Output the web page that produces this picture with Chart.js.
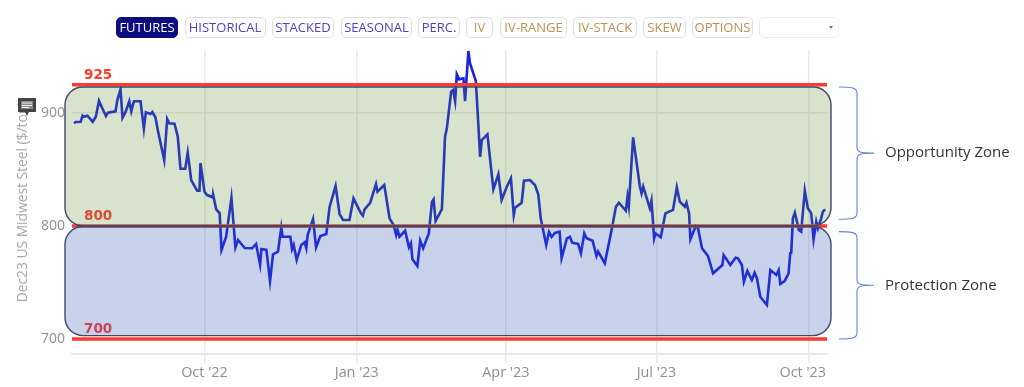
<!DOCTYPE html>
<html>
<head>
<meta charset="utf-8">
<script src="https://cdn.jsdelivr.net/npm/chart.js@4/dist/chart.umd.min.js"></script>
<style>
html,body{margin:0;padding:0;background:#fff;overflow:hidden}
#wrap{position:relative;width:1024px;height:387px;overflow:hidden}
#c{position:absolute;left:0;top:0;width:1024px;height:387px;filter:blur(.45px)}
.btn{position:absolute;top:17px;height:21px;box-sizing:border-box;border:1.5px solid #dedede;border-radius:5px;background:#fff;
 font:13px/18px "Open Sans",sans-serif;text-align:center;white-space:nowrap;filter:blur(.35px)}
.a{color:#4f42c4}.b{color:#bd9150}
.on{background:#0d0d80;border-color:#0d0d80;color:#fff}
.sel{border-color:#ececec;border-width:1px}
.sel i{position:absolute;right:5px;top:8px;width:0;height:0;border-left:2px solid transparent;border-right:2px solid transparent;border-top:3px solid #777}
#icon{position:absolute;left:17px;top:97px}
</style>
</head>
<body>
<div id="wrap"><canvas id="c" width="1024" height="387"></canvas><div id="bar"></div>
<svg id="icon" width="20" height="20" viewBox="0 0 20 20"><path d="M1 1h18v14h-7l-2 4-2-4H1z" fill="#444"/><path d="M4 4h12v8H4z" fill="#8a8a8a"/><path d="M5 6h10M5 8.5h10M5 10.5h7" stroke="#eee" stroke-width="1"/></svg>
</div>
<script>
// Days counted from 1 Oct 2022
const days = [-78.8,-77.8,-74.8,-73.6,-72.8,-70.7,-67.5,-65.6,-63.7,-61.7,-59.5,-58.3,-53.7,-52.6,-50.7,-49.5,-47.6,-45.4,-44.2,-42.6,-38.6,-36.6,-35.4,-32.6,-31.5,-29.6,-28.2,-24.3,-22.5,-21.3,-18.1,-16.1,-14.5,-11.6,-10.1,-8,-4.4,-3,-2.4,0,1.6,5,5.2,7.1,9.2,10.3,13.1,16.3,18.7,20.3,24.3,28.8,31.2,33.6,34.4,37.4,39.6,41.4,44.4,46.4,47.2,51.9,52.9,53.9,55.7,58.5,60.5,61.5,62.3,65.6,67.4,70,73.6,75.6,79.2,81.6,83.7,87.6,90,94.5,95.7,96.7,100.1,103.6,104.5,108.6,111.8,114.2,115.8,116.6,117.8,121.2,123.5,124.7,125.6,128.6,130.3,132.1,135.5,137.4,138.4,139.6,143.4,145.3,146.4,149,150.2,151.4,152.4,153.8,156.4,157.4,159.4,160.4,163.9,165.1,166.5,167.5,170.9,174.5,177.5,179.5,182.6,185.1,186.8,187.6,191.6,193,196.6,199.6,201.6,203.1,206.4,208.1,209.7,211.7,214.5,215.7,218.9,220.7,222.1,225.7,227.4,229.4,230.8,234.4,236.8,237.8,241.8,245.9,248.5,250.3,254.5,255.5,256.3,258.9,263,264,265,269,270,271.6,272.4,275.6,278.4,283,285.3,287.1,290.1,291.1,292.7,293.5,296.7,298.1,300.5,304.1,307.2,312.8,313.6,317.6,320.8,322.2,324.6,325.8,327.9,330.6,332.3,333.7,335.7,339.7,341.8,345.4,346.8,347.8,350.4,352.8,353.8,354.4,355.4,356.6,359,360.4,362.6,364.4,366.5,367.9,369.5,370.5,372.5,373.5,374.9];
const prices = [891,892,892.3,897.6,896.7,897.6,892.3,896.7,910.9,904.2,897.4,900.3,901.5,911.5,921,895.8,901.2,910.4,901.5,910.4,910.4,886.1,900.6,899.1,900.9,896.2,885,858.4,894.7,890.9,890.5,879,850.7,850.7,864.9,840.7,831.2,831.2,855.8,830.4,827.4,825.4,828,814.8,811.2,778.8,790.5,825,781.1,787.6,780.5,780.3,784.1,765.8,779.6,778.8,751.3,775,777.3,798.8,790.5,790.5,779.4,783.2,769.9,783.2,785.6,780.3,792,806.2,781.1,791.2,792.9,817.1,835.4,810.6,805.3,805.3,824.5,811.2,809.1,814.8,820.6,837.2,830.4,836.3,806.8,800.9,792,796.5,790.5,795.8,781.1,784.7,770.5,764.6,787,780.3,793.5,821.2,823.5,804.4,815,879,886.5,918.9,920.4,910.6,934.3,929.8,930.7,910.6,954.9,944,928.3,898.2,861.3,876.1,881.2,832.5,845.8,823,834.8,842.2,809.7,816.2,820.6,840.1,840.7,836.3,828.1,806.8,783.2,794.7,790.3,793.8,795,771.4,789.1,790.5,785.2,784.1,775.8,793.5,789.1,787,773.5,777.3,767,796.5,817.1,820.6,813.5,825.9,817.7,878.5,834.8,828.9,834.8,815.7,822.4,789.1,793.5,790,811.2,814.2,834.2,821.5,817.1,820.6,811.2,788.2,800,798,780.3,773.5,758.1,765.5,774.3,765.5,772,771.4,765.5,750.7,760.2,752.2,758.7,753.7,737.4,730.1,761,756.6,761,748.7,751.3,758.1,775.8,776.4,806.8,811.8,796.5,795,831.2,815.7,811.2,788.2,803.8,798,806.8,812.7,814.8];
const xTickDays = [0,92,182,273,365];
const xTickLabels = ["Oct '22","Jan '23","Apr '23","Jul '23","Oct '23"];
const yTicks = [700,800,900];
const levels = [925,800,700];
const levelColors = ["#ff3a2e","#ff3a2e","#ff3a2e"];
const zoneNames = ["Opportunity Zone","Protection Zone"];
const zoneTops = [923,799.5];
const zoneBottoms = [800.2,703];
const axisName = "Dec23 US Midwest Steel ($/ton)";
const viewButtons = ["FUTURES","HISTORICAL","STACKED","SEASONAL","PERC."];
const volButtons = ["IV","IV-RANGE","IV-STACK","SKEW","OPTIONS"];

// Toolbar
const spans = [[116,62],[184.5,81],[272,62],[341,71],[418,42],[466,27],[500,67],[573,64],[643,43],[692,61]];
const bar = document.getElementById('bar');
viewButtons.concat(volButtons).forEach((t,i)=>{
  const d = document.createElement('div');
  d.className = 'btn ' + (i===0 ? 'on' : i<viewButtons.length ? 'a' : 'b');
  d.textContent = t;
  d.style.left = spans[i][0]+'px'; d.style.width = spans[i][1]+'px';
  bar.appendChild(d);
});
const sel = document.createElement('div');
sel.className='btn sel'; sel.style.left='759px'; sel.style.width='80px'; sel.innerHTML='<i></i>';
bar.appendChild(sel);

function roundRect(ctx,x,y,w,h,r){ctx.beginPath();ctx.roundRect(x,y,w,h,r);}
function brace(ctx,x0,xm,xt,yt,ym,yb){
  ctx.beginPath();
  ctx.moveTo(x0,yt);
  ctx.bezierCurveTo(xm-8,yt,xm,yt,xm,yt+6);
  ctx.lineTo(xm,ym-6);
  ctx.bezierCurveTo(xm,ym-1,xm+3,ym,xt,ym);
  ctx.bezierCurveTo(xm+3,ym,xm,ym+1,xm,ym+6);
  ctx.lineTo(xm,yb-6);
  ctx.bezierCurveTo(xm,yb,xm-8,yb,x0,yb);
  ctx.stroke();
}

const overlay = {
  id:'overlay',
  beforeDraw(chart){
    // Oct '23 label is kept inside the plot, as in the source chart
    const x = chart.scales.x;
    const items = x.getLabelItems(chart.chartArea);
    const last = items[items.length-1];
    if(last && !last.options.shifted){ last.options.translation[0]-=6; last.options.shifted=true; }
  },
  afterDatasetsDraw(chart){
    const {ctx,scales:{y},chartArea:a} = chart;
    ctx.save();
    // level numbers
    ctx.font='bold 13.5px "DejaVu Sans"';
    ctx.textAlign='left'; ctx.textBaseline='bottom';
    levels.forEach(v=>{ ctx.fillStyle='#ff3a2e'; ctx.fillText(String(v),84,y.getPixelForValue(v)-3); });
    // translucent zones
    const fills=['rgba(90,140,50,.24)','rgba(50,90,180,.27)'];
    zoneTops.forEach((t,i)=>{
      const top=y.getPixelForValue(t), bot=y.getPixelForValue(zoneBottoms[i]);
      roundRect(ctx,a.left-7,top,a.width+11,bot-top,18);
      ctx.fillStyle=fills[i]; ctx.fill();
      ctx.strokeStyle='#3c4a68'; ctx.lineWidth=1.4; ctx.stroke();
    });
    // braces and captions
    ctx.strokeStyle='#6486d2'; ctx.lineWidth=1.1;
    const bt=[923,795], bb=[806,700];
    ctx.font='15px "Open Sans"'; ctx.textBaseline='middle'; ctx.fillStyle='#333';
    zoneNames.forEach((n,i)=>{
      const yt=y.getPixelForValue(bt[i]), yb=y.getPixelForValue(bb[i]), ym=(yt+yb)/2;
      brace(ctx,a.right+12,a.right+30,a.right+47,yt,ym,yb);
      ctx.fillText(n,885,ym);
    });
    ctx.restore();
  }
};

new Chart(document.getElementById('c'),{
  type:'line',
  data:{datasets:[
    ...levels.map((v,i)=>({data:[{x:-80,y:v},{x:376,y:v}],borderColor:levelColors[i],borderWidth:3.4,pointRadius:0,order:1})),
    {data:days.map((d,i)=>({x:d,y:prices[i]})),borderColor:'#1a22e0',borderWidth:2.6,pointRadius:0,tension:0,order:2,borderJoinStyle:'miter'}
  ]},
  plugins:[overlay],
  options:{
    responsive:false,animation:false,
    layout:{padding:{left:0,right:197,top:50,bottom:0}},
    plugins:{legend:{display:false},tooltip:{enabled:false}},
    scales:{
      x:{type:'linear',min:-80,max:376,
        afterFit(s){s.height=33;},
        afterBuildTicks(s){s.ticks=xTickDays.map(v=>({value:v}));},
        grid:{color:'#e9e9e9',lineWidth:1.5,tickLength:9,drawOnChartArea:true},
        border:{display:true,color:'#e4e8f3',width:2},
        ticks:{autoSkip:false,maxRotation:0,padding:1,color:'#8f8f8f',font:{family:'"Open Sans"',size:14.4},
          callback:(v)=>xTickLabels[xTickDays.indexOf(v)]}
      },
      y:{type:'linear',min:686.7,max:955.8,
        afterFit(s){s.width=72;},
        afterBuildTicks(s){s.ticks=yTicks.map(v=>({value:v}));},
        grid:{color:'#e9e9e9',lineWidth:1.5,drawTicks:false},
        border:{display:false},
        ticks:{padding:7,color:'#8f8f8f',font:{family:'"Open Sans"',size:14}},
        title:{display:true,text:axisName,color:'#a6a6a6',font:{family:'"Open Sans"',size:13.8},padding:{top:15,bottom:0}}
      }
    }
  }
});
</script>
</body>
</html>
